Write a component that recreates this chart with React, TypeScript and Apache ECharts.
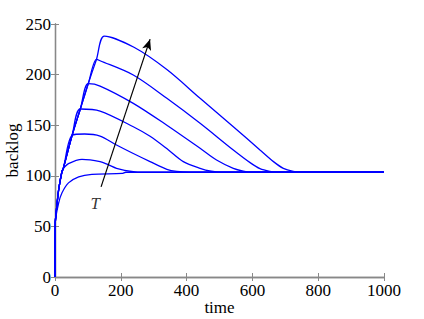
import React, { useEffect, useRef } from "react";
import * as echarts from "echarts";

// Shared rising envelope (time, backlog) during the burst
const envelope: [number, number][] = [
  [0, 0], [1, 54], [3, 62], [11, 86], [21, 104], [25, 107], [52, 140],
  [77, 166], [101, 191], [126, 215], [150, 238],
];

const burstLengths = [0, 25, 50, 75, 100, 125, 150];

// Decay part of each curve after the burst ends
const decayT0: [number, number][] = [[11, 73], [21, 83], [41, 93], [72, 99], [112, 101.5], [204, 102.3], [215, 103.5], [1000, 103.5]];
const decayT25: [number, number][] = [[41, 112], [82, 116.3], [137, 114], [163, 110.7], [187, 107.4], [238, 104], [270, 103.5], [1000, 103.5]];
const decayT50: [number, number][] = [[90, 141.3], [137, 139.3], [187, 130.4], [238, 122], [289, 114], [340, 106.4], [370, 104.3], [410, 103.5], [1000, 103.5]];
const decayT75: [number, number][] = [[137, 164], [238, 148.5], [289, 139], [345, 125.5], [390, 114], [441, 107.4], [475, 104.5], [505, 103.5], [1000, 103.5]];
const decayT100: [number, number][] = [[137, 188.7], [238, 171.6], [340, 150], [441, 127.2], [491, 115.6], [542, 107.4], [572, 104.7], [600, 103.5], [1000, 103.5]];
const decayT125: [number, number][] = [[137, 213.7], [238, 199.6], [340, 176.6], [441, 151.9], [542, 125.5], [593, 113], [623, 107], [653, 104.4], [680, 103.5], [1000, 103.5]];
const decayT150: [number, number][] = [[240, 227], [340, 205], [441, 176.6], [542, 148.5], [623, 125.5], [664, 114], [694, 107.4], [724, 104.4], [750, 103.5], [1000, 103.5]];

const decays = [decayT0, decayT25, decayT50, decayT75, decayT100, decayT125, decayT150];

// Arrow annotation (data coordinates) and its label
const arrowStart: [number, number] = [140, 89];
const arrowEnd: [number, number] = [289, 235];
const arrowLabelPos: [number, number] = [122, 73];
const arrowLabel = "T";

const xName = "time";
const yName = "backlog";

const FONT = "'Liberation Serif', 'DejaVu Serif', serif";
const FRAME = "#888888";

export default function App() {
  const ref = useRef<HTMLDivElement>(null);
  useEffect(() => {
    if (!ref.current) return;
    const chart = echarts.init(ref.current, null, { renderer: "svg" });
    const curveSeries = burstLengths.map((T, i) => ({
      type: "line",
      xAxisIndex: 0,
      yAxisIndex: 0,
      data: [...envelope.filter(([t]) => t <= T + 2), ...decays[i]],
      showSymbol: false,
      smooth: 0.3,
      lineStyle: { color: "#0000ff", width: 1.3 },
      silent: true,
      z: 2,
    }));
    const baseAxis = {
      axisLine: { show: true, lineStyle: { color: FRAME, width: 1.3 } },
      axisTick: { show: true, inside: true, length: 4, lineStyle: { color: FRAME, width: 1 } },
      splitLine: { show: false },
    };
    const fmt = (v: number) => String(v);
    chart.setOption({
      animation: false,
      backgroundColor: "#ffffff",
      grid: { left: 55, right: 40, top: 24, bottom: 42, containLabel: false, outerBoundsMode: "none" },
      xAxis: [
        {
          type: "value", position: "bottom", min: 0, max: 1000, interval: 200,
          ...baseAxis,
          axisLabel: { color: "#000", fontFamily: FONT, fontSize: 17, margin: 5, formatter: fmt },
          name: xName, nameLocation: "middle", nameGap: 22, nameMoveOverlap: false,
          nameTextStyle: { color: "#000", fontFamily: FONT, fontSize: 17 },
        },
        {
          type: "value", position: "top", min: 0, max: 1000, interval: 200,
          ...baseAxis, axisLabel: { show: false },
        },
      ],
      yAxis: [
        {
          type: "value", position: "left", min: 0, max: 250, interval: 50,
          ...baseAxis,
          axisLabel: { color: "#000", fontFamily: FONT, fontSize: 17, margin: 4, formatter: fmt },
          name: yName, nameLocation: "middle", nameGap: 34, nameRotate: 90, nameMoveOverlap: false,
          nameTextStyle: { color: "#000", fontFamily: FONT, fontSize: 17 },
        },
        {
          type: "value", position: "right", min: 0, max: 250, interval: 50,
          ...baseAxis, axisLabel: { show: false },
        },
      ],
      series: [
        ...curveSeries,
        {
          type: "line",
          data: [],
          markLine: {
            silent: true,
            symbol: ["none", "arrow"],
            symbolSize: [7, 11],
            label: { show: false },
            lineStyle: { color: "#000", width: 1.2, type: "solid" },
            data: [[{ coord: arrowStart }, { coord: arrowEnd }]],
          },
          z: 3,
        },
        {
          type: "scatter",
          data: [arrowLabelPos],
          symbolSize: 0,
          silent: true,
          label: {
            show: true, position: "inside", formatter: arrowLabel,
            color: "#000", fontFamily: FONT, fontStyle: "italic", fontSize: 17,
          },
        },
      ],
    });
    return () => chart.dispose();
  }, []);
  return (
    <div
      ref={ref}
      style={{ position: "absolute", left: 0, top: 0, width: 424, height: 319 }}
    />
  );
}
